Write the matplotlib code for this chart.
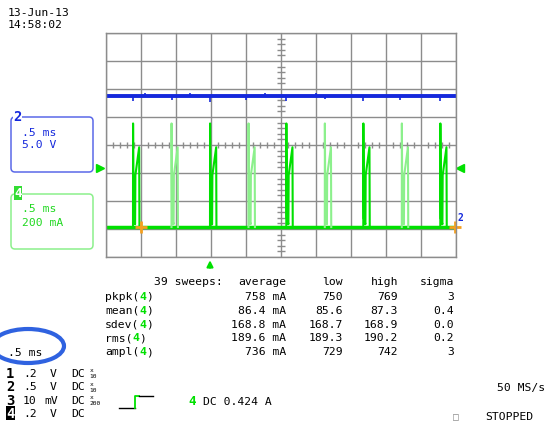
#--Importing--#
import numpy as np
import matplotlib.pyplot as plt
from matplotlib.patches import FancyBboxPatch, Ellipse

#--Data--#
date_str = "13-Jun-13"
time_str = "14:58:02"

# ch4 current pulses (ms, mA)
pulse_starts_ms = [0.39, 0.94, 1.49, 2.04, 2.58, 3.13, 3.68, 4.23, 4.78]
pulse_shape_t = [0.0, 0.001, 0.008, 0.030, 0.034, 0.088, 0.092]
pulse_shape_ma = [0, 740, 60, 20, 370, 570, 0]

# ch2 voltage (V) with small spikes
ch2_level_v = 22.0
ch2_spike_ms = [0.39, 0.56, 0.94, 1.20, 1.49, 2.01, 2.28, 2.58, 3.01, 3.13, 3.67, 4.20, 4.78]
ch2_spike_v = [-0.9, 0.4, -0.7, 0.4, -1.1, -0.7, 0.4, -0.9, 0.4, -0.6, -0.9, -0.7, -0.9]

trigger_level_ma = 424
trigger_time_ms = 1.49
cursor_ms = [0.50, 4.99]

meas_rows = ["pkpk", "mean", "sdev", "rms", "ampl"]
meas_avg = ["758 mA", "86.4 mA", "168.8 mA", "189.6 mA", "736 mA"]
meas_low = ["750", "85.6", "168.7", "189.3", "729"]
meas_high = ["769", "87.3", "168.9", "190.2", "742"]
meas_sigma = ["3", "0.4", "0.0", "0.2", "3"]

ch_nums = ["1", "2", "3", "4"]
ch_scale = [".2", ".5", "10", ".2"]
ch_unit = ["V", "V", "mV", "V"]
ch_probe = ["10", "10", "200", ""]

#--Scope settings--#
ms_per_div = 0.5
ch4_ma_per_div, ch4_gnd_div = 200, -2.93
ch2_v_per_div, ch2_gnd_div = 5.0, -2.64

BLUE = '#1428DC'
GREEN = '#00E000'
LGREEN = '#8CF08C'
ORANGE = '#F5A020'
GRID = '#8C8C8C'
FONT = 'DejaVu Sans Mono'
FS = 8.2
CW = 0.602 * FS * 100 / 72  # char width in px

W, H = 547, 427
fig = plt.figure(figsize=(W / 100, H / 100), dpi=100)

#--Overlay in pixel coords--#
ov = fig.add_axes([0, 0, 1, 1])
ov.set_xlim(0, W); ov.set_ylim(H, 0); ov.axis('off')

def txt(x, y, s, color='black', ha='left', size=FS, weight='normal', **kw):
    ov.text(x, y, s, color=color, ha=ha, va='center', fontsize=size,
            family=FONT, fontweight=weight, **kw)

txt(8, 13, date_str)
txt(8, 25, time_str)

# channel boxes
ov.add_patch(FancyBboxPatch((11, 118), 82, 55, boxstyle="round,pad=0,rounding_size=4",
                            fc='none', ec='#5A68E8', lw=1.1))
txt(13, 117, "2", color=BLUE, size=10, weight='bold',
    bbox=dict(fc='white', ec='none', pad=0.3))
txt(22, 133, ".5 ms", color=BLUE)
txt(22, 145, "5.0 V", color=BLUE)

ov.add_patch(FancyBboxPatch((11, 195), 82, 55, boxstyle="round,pad=0,rounding_size=4",
                            fc='none', ec=LGREEN, lw=1.1))
txt(14, 194, "4", color='white', size=9, weight='bold',
    bbox=dict(fc='#33DD33', ec='none', pad=0.4))
txt(22, 209, ".5 ms", color='#20D820')
txt(22, 223, "200 mA", color='#20D820')

# measurement table
txt(154, 282, "39 sweeps:")
for s, x in zip(["average", "low", "high", "sigma"], [286, 343, 398, 454]):
    txt(x, 282, s, ha='right')
for k, name in enumerate(meas_rows):
    y = 297 + k * 13.8
    txt(105, y, name + "(")
    txt(105 + (len(name) + 1) * CW, y, "4", color=GREEN, weight='bold')
    txt(105 + (len(name) + 2) * CW, y, ")")
    txt(286, y, meas_avg[k], ha='right')
    txt(343, y, meas_low[k], ha='right')
    txt(398, y, meas_high[k], ha='right')
    txt(454, y, meas_sigma[k], ha='right')

# timebase with circle
ov.add_patch(Ellipse((28, 347), 72, 34, fc='none', ec='#2F62E0', lw=3))
txt(8, 353, ".5 ms")

# channel list
for k in range(4):
    y = 374 + k * 13.3
    if ch_nums[k] == "4":
        txt(6, y, ch_nums[k], color='white', size=10, weight='bold',
            bbox=dict(fc='black', ec='none', pad=0.2))
    else:
        txt(6, y, ch_nums[k], size=10, weight='bold')
    txt(23, y, ch_scale[k])
    txt(44 if ch_unit[k] == "mV" else 50, y, ch_unit[k])
    txt(71, y, "DC")
    if ch_probe[k]:
        txt(90, y - 3, "x", size=4.5)
        txt(89, y + 3, ch_probe[k], size=4.5)

# trigger symbol
ov.plot([119, 135], [409, 409], color='black', lw=1)
ov.plot([135, 135, 139], [409, 397, 397], color=GREEN, lw=1.3)
ov.plot([139, 153], [397, 397], color='black', lw=1)
txt(188, 402, "4", color=GREEN, weight='bold', size=9)
txt(203, 402, "DC 0.424 A")

txt(545, 388, "50 MS/s", ha='right')
txt(453, 417, "\u25a1", color='#888888', size=7)
txt(485, 417, "STOPPED")

#--Scope graticule--#
ax = fig.add_axes([105.7 / W, 1 - 258 / H, 350 / W, 224 / H])
ax.patch.set_alpha(0)
ax.set_xlim(0, 10 * ms_per_div); ax.set_ylim(-4, 4)
ax.set_xticks(np.arange(0, 10 * ms_per_div + 1e-6, ms_per_div))
ax.set_yticks(np.arange(-4, 4.01, 1))
ax.grid(True, color=GRID, lw=1.0)
ax.tick_params(length=0, labelbottom=False, labelleft=False)
for sp in ax.spines.values():
    sp.set_color(GRID); sp.set_linewidth(1.0)
minor_x = [v for v in np.arange(0, 5.001, ms_per_div / 5) if abs(v / ms_per_div - round(v / ms_per_div)) > 1e-6]
ax.vlines(minor_x, -0.09, 0.09, color=GRID, lw=1.0)
minor_y = [v for v in np.arange(-4, 4.001, 0.2) if abs(v - round(v)) > 1e-6]
ax.hlines(minor_y, 2.5 - 0.055, 2.5 + 0.055, color=GRID, lw=1.0)

#--Traces--#
def ch4(ma):
    return ch4_gnd_div + np.asarray(ma) / ch4_ma_per_div

def ch2(v):
    return ch2_gnd_div + np.asarray(v) / ch2_v_per_div

lvl2 = ch2(ch2_level_v)
ax.plot([0, 5], [lvl2, lvl2], color=BLUE, lw=2.8, solid_capstyle='butt')
ax.vlines(ch2_spike_ms, lvl2, ch2(ch2_level_v + np.array(ch2_spike_v)), color=BLUE, lw=1.2)

g0 = ch4(0)
ax.plot([0, 5], [g0, g0], color=GREEN, lw=2.5, solid_capstyle='butt')
for k, t0 in enumerate(pulse_starts_ms):
    col = GREEN if k % 2 == 0 else LGREEN
    ax.plot(t0 + np.array(pulse_shape_t), ch4(pulse_shape_ma), color=col, lw=1.5)

# trigger markers
ytr = ch4(trigger_level_ma)
ax.plot([-0.016], [ytr], marker='>', color=GREEN, ms=6, clip_on=False,
        transform=ax.get_yaxis_transform())
ax.plot([1.013], [ytr], marker='<', color=GREEN, ms=6, clip_on=False,
        transform=ax.get_yaxis_transform())
ax.annotate("", xy=(trigger_time_ms, -0.002), xytext=(trigger_time_ms, -0.06),
            xycoords=ax.get_xaxis_transform(), textcoords=ax.get_xaxis_transform(),
            arrowprops=dict(arrowstyle='-|>', color=GREEN, lw=1.5, mutation_scale=9))
ax.plot(cursor_ms, [g0, g0], ls='none', marker='+', color=ORANGE, ms=9, mew=2, clip_on=False)
ov.text(458, 218, "2", color=BLUE, fontsize=7, fontweight='bold', family=FONT, va='center')

fig.savefig('out.png', dpi=100)
